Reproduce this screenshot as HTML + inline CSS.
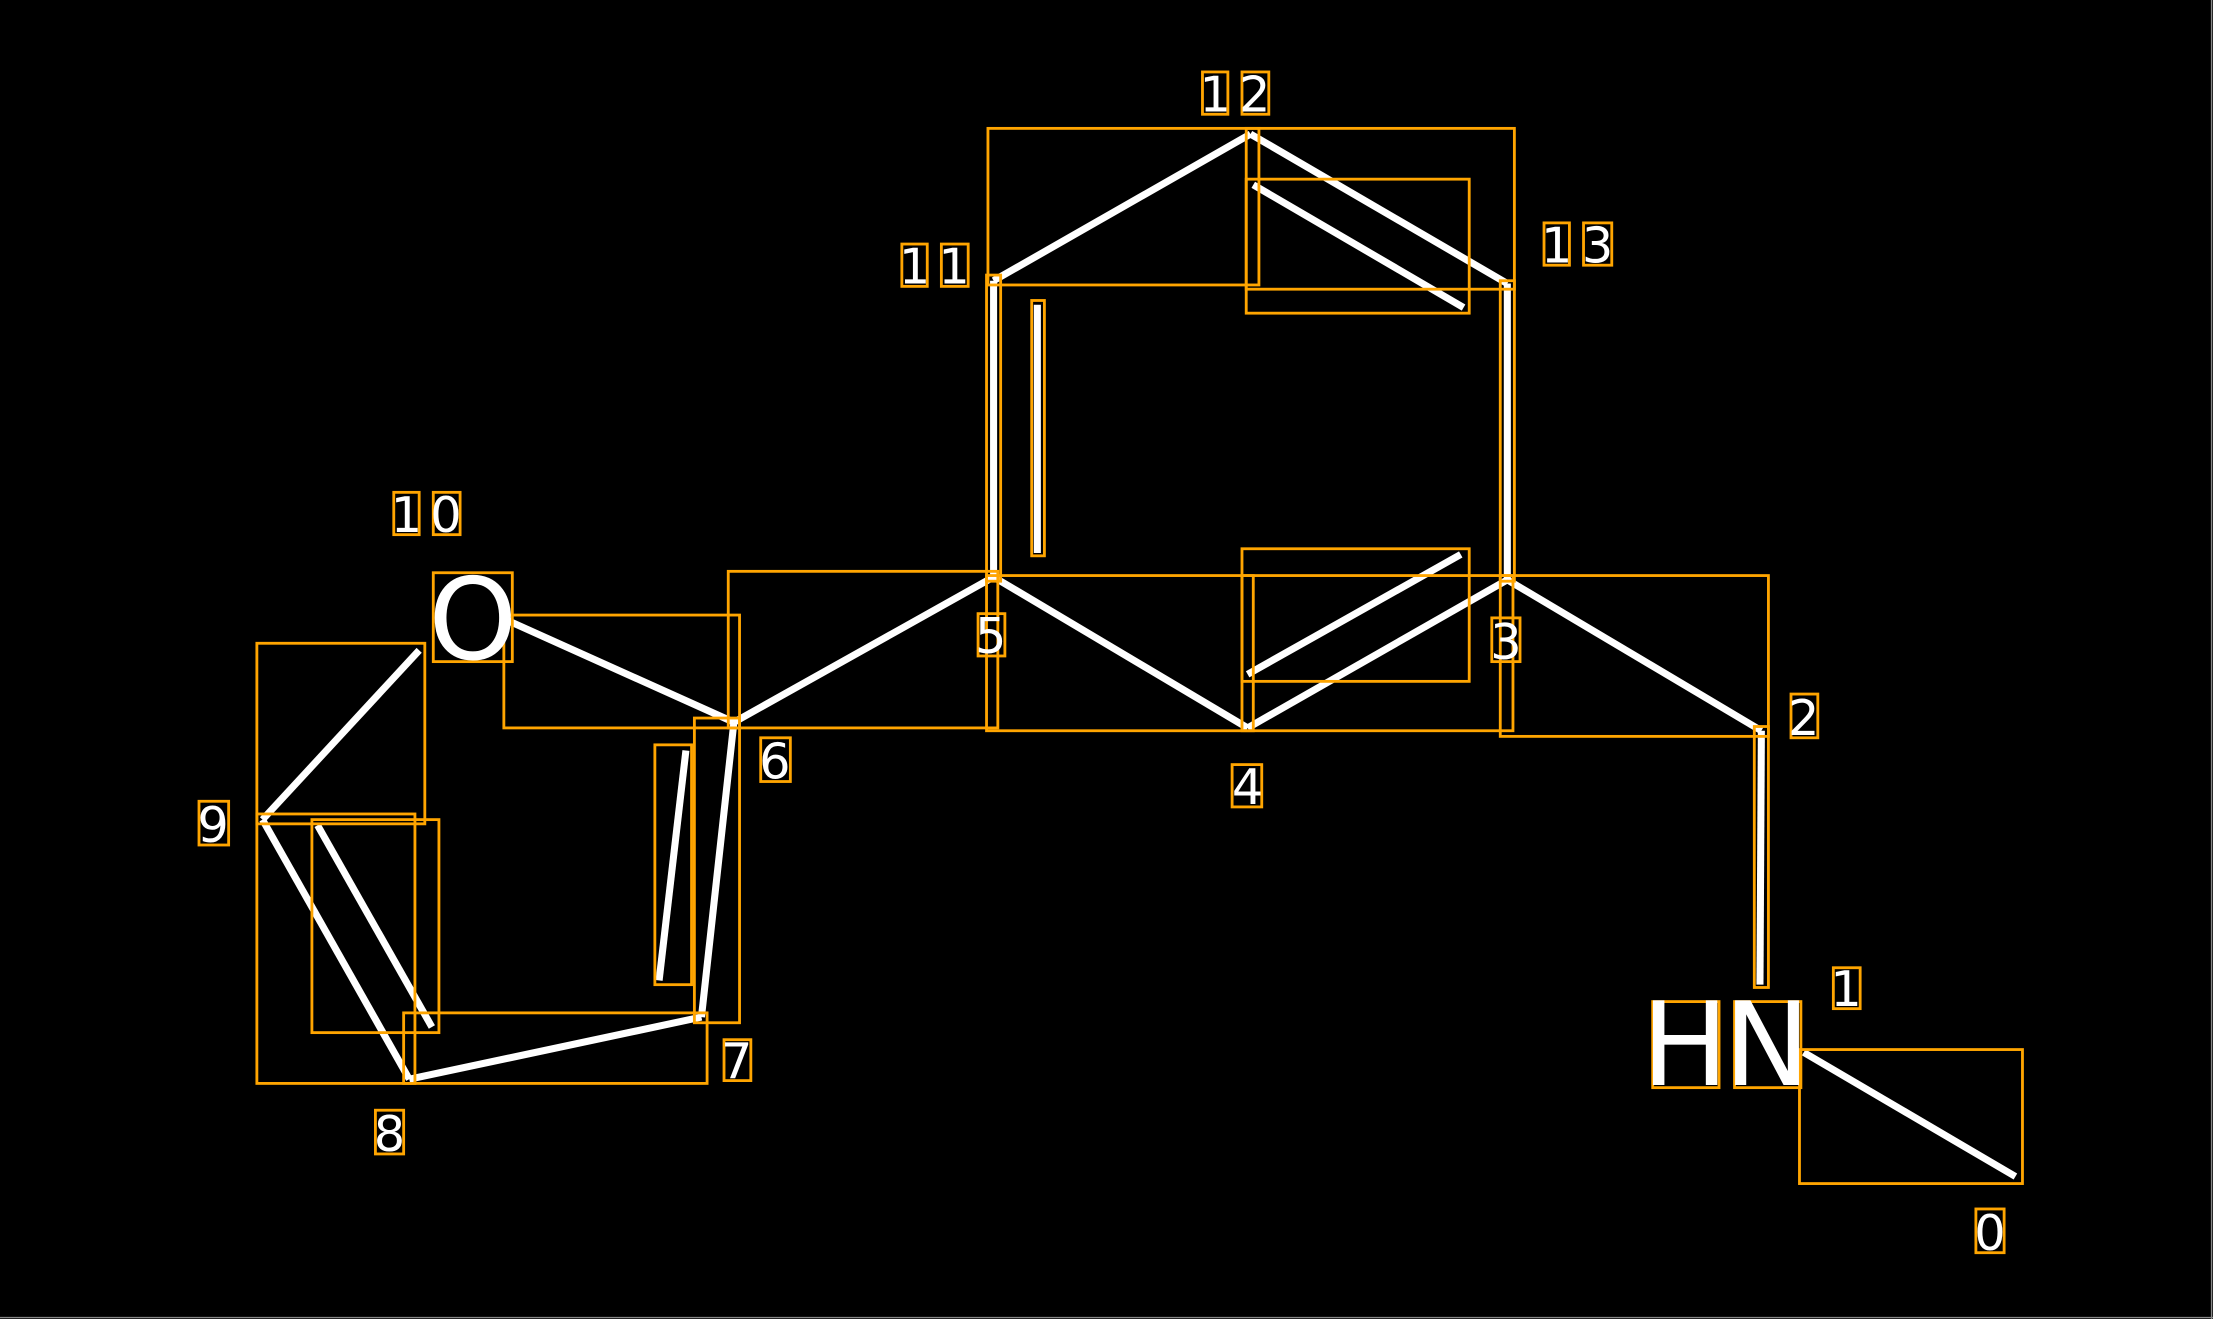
<!DOCTYPE html>
<html><head><meta charset="utf-8"><style>
html,body{margin:0;padding:0;background:#000;width:2213px;height:1319px;overflow:hidden}
svg{display:block}
text{font-family:"DejaVu Sans","Liberation Sans",sans-serif;fill:#fff}
</style></head><body>
<svg width="2213" height="1319" viewBox="0 0 1568 935" preserveAspectRatio="none">
<rect x="0" y="0" width="1568" height="935" fill="#000"/>
<line x1="1567" y1="0" x2="1567" y2="935" stroke="#888" stroke-width="1"/>
<line x1="0" y1="934" x2="1568" y2="934" stroke="#888" stroke-width="1"/>
<g stroke="#fff" stroke-width="5" fill="none" stroke-linecap="butt">
<line x1="704" y1="199" x2="886" y2="95"/>
<line x1="886" y1="95" x2="1068" y2="201"/>
<line x1="888" y1="131" x2="1037" y2="218"/>
<line x1="704" y1="199" x2="704" y2="409"/>
<line x1="735" y1="216" x2="735" y2="392"/>
<line x1="1068" y1="201" x2="1068" y2="411"/>
<line x1="704" y1="409" x2="884" y2="516"/>
<line x1="884" y1="516" x2="1068" y2="411"/>
<line x1="884" y1="478" x2="1035" y2="393"/>
<line x1="1068" y1="411" x2="1248" y2="518"/>
<line x1="1248" y1="518" x2="1247" y2="698"/>
<line x1="1278" y1="746" x2="1428" y2="834"/>
<line x1="704" y1="409" x2="520" y2="512"/>
<line x1="360" y1="440" x2="520" y2="512"/>
<line x1="520" y1="512" x2="497" y2="721"/>
<line x1="486" y1="532" x2="467" y2="695"/>
<line x1="497" y1="721" x2="290" y2="765"/>
<line x1="290" y1="765" x2="186" y2="581"/>
<line x1="225" y1="585" x2="306" y2="728"/>
<line x1="186" y1="581" x2="297" y2="461"/>
</g>
<g stroke="#FFA500" stroke-width="2" fill="none">
<rect x="700" y="91" width="192" height="111"/>
<rect x="883" y="91" width="190" height="114"/>
<rect x="883" y="127" width="158" height="95"/>
<rect x="699" y="195" width="10" height="217"/>
<rect x="731" y="213" width="9" height="181"/>
<rect x="1063" y="199" width="10" height="213"/>
<rect x="516" y="405" width="191" height="111"/>
<rect x="699" y="408" width="189" height="110"/>
<rect x="880" y="408" width="192" height="110"/>
<rect x="880" y="389" width="161" height="94"/>
<rect x="1063" y="408" width="190" height="114"/>
<rect x="1243" y="515" width="10" height="185"/>
<rect x="1275" y="744" width="158" height="95"/>
<rect x="357" y="436" width="167" height="80"/>
<rect x="307" y="406" width="56" height="63"/>
<rect x="492" y="509" width="32" height="216"/>
<rect x="464" y="528" width="26" height="170"/>
<rect x="286" y="718" width="215" height="50"/>
<rect x="182" y="577" width="112" height="191"/>
<rect x="221" y="581" width="90" height="151"/>
<rect x="182" y="456" width="119" height="128"/>
<rect x="1171" y="710" width="47" height="61"/>
<rect x="1229" y="710" width="47" height="61"/>
<rect x="852" y="51" width="18" height="30"/><rect x="880" y="51" width="19" height="30"/>
<rect x="1094" y="158" width="18" height="30"/><rect x="1122" y="158" width="20" height="30"/>
<rect x="639" y="173" width="18" height="30"/><rect x="667" y="173" width="19" height="30"/>
<rect x="279" y="349" width="18" height="30"/><rect x="307" y="349" width="19" height="30"/>
<rect x="141" y="568" width="21" height="31"/>
<rect x="266" y="787" width="20" height="31"/>
<rect x="513" y="737" width="19" height="29"/>
<rect x="539" y="523" width="21" height="31"/>
<rect x="693" y="435" width="19" height="30"/>
<rect x="873" y="542" width="21" height="30"/>
<rect x="1057" y="438" width="20" height="31"/>
<rect x="1269" y="492" width="19" height="31"/>
<rect x="1299" y="686" width="19" height="29"/>
<rect x="1400" y="857" width="20" height="31"/>
</g>
<g font-size="35">
<text x="861" y="79" text-anchor="middle">1</text><text x="889" y="79" text-anchor="middle">2</text>
<text x="1103" y="186" text-anchor="middle">1</text><text x="1132" y="186" text-anchor="middle">3</text>
<text x="648" y="201" text-anchor="middle">1</text><text x="676" y="201" text-anchor="middle">1</text>
<text x="288" y="377" text-anchor="middle">1</text><text x="316" y="377" text-anchor="middle">0</text>
<text x="151" y="597" text-anchor="middle">9</text>
<text x="276" y="816" text-anchor="middle">8</text>
<text x="522" y="764" text-anchor="middle">7</text>
<text x="549" y="552" text-anchor="middle">6</text>
<text x="702" y="463" text-anchor="middle">5</text>
<text x="884" y="570" text-anchor="middle">4</text>
<text x="1067" y="467" text-anchor="middle">3</text>
<text x="1278" y="521" text-anchor="middle">2</text>
<text x="1308" y="713" text-anchor="middle">1</text>
<text x="1410" y="886" text-anchor="middle">0</text>
</g>
<text x="335" y="467" font-size="80" text-anchor="middle">O</text>
<text x="1194" y="769" font-size="82" text-anchor="middle">H</text>
<text x="1252" y="769" font-size="82" text-anchor="middle">N</text>
</svg>
</body></html>
